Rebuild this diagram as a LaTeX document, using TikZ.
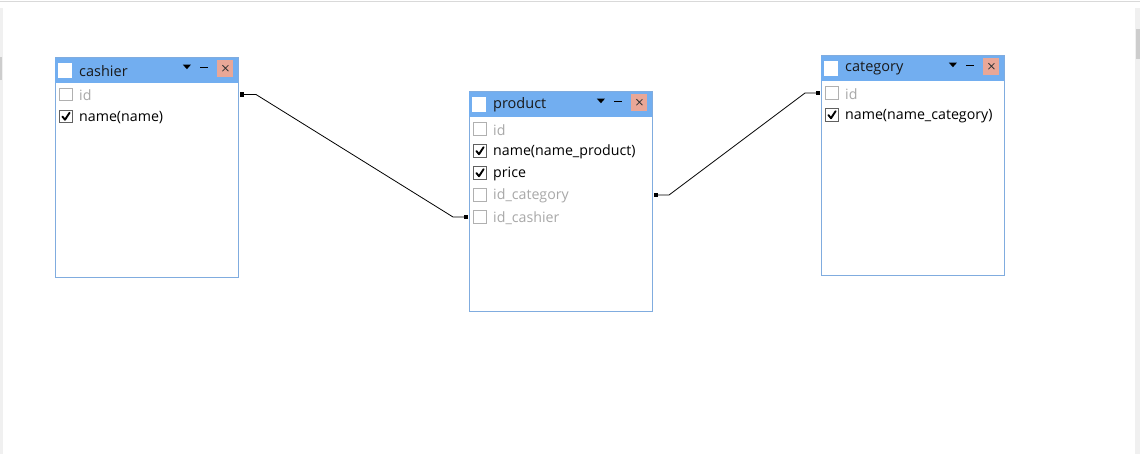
\documentclass[tikz,border=0pt]{standalone}
\usepackage{fontspec}
\setmainfont{Open Sans}
\definecolor{titleblue}{HTML}{72AEF0}
\definecolor{boxborder}{HTML}{80ACDF}
\definecolor{closered}{HTML}{E9A797}
\definecolor{dimtext}{HTML}{A8A8A8}
\definecolor{dimbox}{HTML}{B0B0B0}
\definecolor{darkbox}{HTML}{606060}
\definecolor{framegray}{HTML}{F0F0F0}
\definecolor{linegray}{HTML}{D9D9D9}
\definecolor{thumbgray}{HTML}{CDCDCD}
\begin{document}
\begin{tikzpicture}[x=1pt,y=-1pt,
  tablebox/.style={draw=boxborder,line width=1pt,fill=white,inner sep=0pt,minimum width=183pt,anchor=north west},
  titlebar/.style={fill=titleblue,inner sep=0pt,minimum width=183pt,minimum height=25pt,anchor=north west},
  winbox/.style={fill=white,inner sep=0pt,minimum width=14pt,minimum height=15pt,anchor=west},
  titletext/.style={inner sep=0pt,anchor=west,font=\fontsize{14.5}{16}\selectfont,text=black!90},
  rowtext/.style={inner sep=0pt,anchor=west,font=\fontsize{14.2}{16}\selectfont},
  dimrow/.style={rowtext,text=dimtext},
  onrow/.style={rowtext,text=black},
  cbox/.style={draw=#1,line width=0.9pt,fill=white,inner sep=0pt,minimum size=12.5pt,anchor=west},
  closebox/.style={fill=closered,inner sep=0pt,minimum width=16pt,minimum height=17pt},
  marker/.style={fill=black,inner sep=0pt,minimum size=4.5pt},
  conn/.style={draw=black,line width=0.8pt},
  checkmark/.style={line width=1.9pt,black,line cap=round,line join=round}
]
\useasboundingbox (0,0) rectangle (1140,454);
\fill[white] (0,0) rectangle (1140,454);
% window frame
\draw[linegray,line width=1.5pt] (0,1.5) -- (1140,1.5);
\fill[framegray] (0,8) rectangle (3,454);
\fill[thumbgray] (0,57) rectangle (1.5,80);
\fill[framegray] (1135,8) rectangle (1140,454);
\fill[thumbgray] (1136,29) rectangle (1140,59);

% ---------- table macro pieces ----------
\newcommand\mktable[5]{% name, x, y, height, title
  \node[tablebox,minimum height=#4] (#1) at (#2,#3) {};
  \node[titlebar] (#1T) at (#1.north west) {};
  \node[winbox] (#1W) at ([xshift=3pt]#1T.west) {};
  \node[titletext] (#1N) at ([xshift=24pt,yshift=-0.5pt]#1T.west) {#5};
  \fill[black] ([xshift=-55.5pt,yshift=5.5pt]#1T.east) -- ++(8,0) -- ++(-4,4.5) -- cycle;
  \draw[black,line width=1.2pt] ([xshift=-38pt,yshift=3pt]#1T.east) -- ++(8,0);
  \node[closebox] (#1X) at ([xshift=-13pt,yshift=2pt]#1T.east) {};
  \draw[black!80,line width=0.8pt] ([xshift=-3pt,yshift=3pt]#1X.center) -- ++(6,6) ([xshift=3pt,yshift=3pt]#1X.center) -- ++(-6,6);
}
\newcommand\mkrow[5]{% table, key, y offset, style (dim/on), text
  \node[cbox=#4box] (#1-#2B) at ([xshift=4pt,yshift=-#3]#1.north west) {};
  \node[#4row] (#1-#2) at ([xshift=24pt,yshift=-#3-1pt]#1.north west) {#5};
}
\colorlet{onbox}{darkbox}
\newcommand\tick[1]{%
  \draw[checkmark] ([xshift=-3.3pt,yshift=0pt]#1.center) -- ++(2.6,3.2) -- ++(4.6,-7);
}

% cashier
\mktable{cashier}{55}{57.5}{219.5pt}{cashier}
\mkrow{cashier}{id}{37pt}{dim}{id}
\mkrow{cashier}{name}{59pt}{on}{name(name)}
\tick{cashier-nameB}

% product
\mktable{product}{469}{91.5}{219.5pt}{product}
\mkrow{product}{id}{37.5pt}{dim}{id}
\mkrow{product}{name}{59.5pt}{on}{name(name\_product)}
\mkrow{product}{price}{81.5pt}{on}{price}
\mkrow{product}{idcat}{103.5pt}{dim}{id\_category}
\mkrow{product}{idcash}{125.5pt}{dim}{id\_cashier}
\tick{product-nameB}
\tick{product-priceB}

% category
\mktable{category}{821}{55.5}{219.5pt}{category}
\mkrow{category}{id}{37.5pt}{dim}{id}
\mkrow{category}{name}{59.5pt}{on}{name(name\_category)}
\tick{category-nameB}

% connector cashier.id -> product.id_cashier
\coordinate (a1) at (cashier.east |- cashier-idB);
\coordinate (a2) at (product.west |- product-idcashB);
\node[marker,anchor=west] (m1) at ([xshift=0.5pt]a1) {};
\node[marker,anchor=east] (m2) at ([xshift=-0.5pt]a2) {};
\draw[conn] (m1.center) -- ([xshift=17pt]a1) -- ([xshift=-16pt]a2) -- (m2.center);

% connector product.id_category -> category.id
\coordinate (b1) at (product.east |- product-idcatB);
\coordinate (b2) at (category.west |- category-idB);
\node[marker,anchor=west] (m3) at ([xshift=0.5pt]b1) {};
\node[marker,anchor=east] (m4) at ([xshift=-0.5pt]b2) {};
\draw[conn] (m3.center) -- ([xshift=16pt]b1) -- ([xshift=-16pt]b2) -- (m4.center);
\end{tikzpicture}
\end{document}
